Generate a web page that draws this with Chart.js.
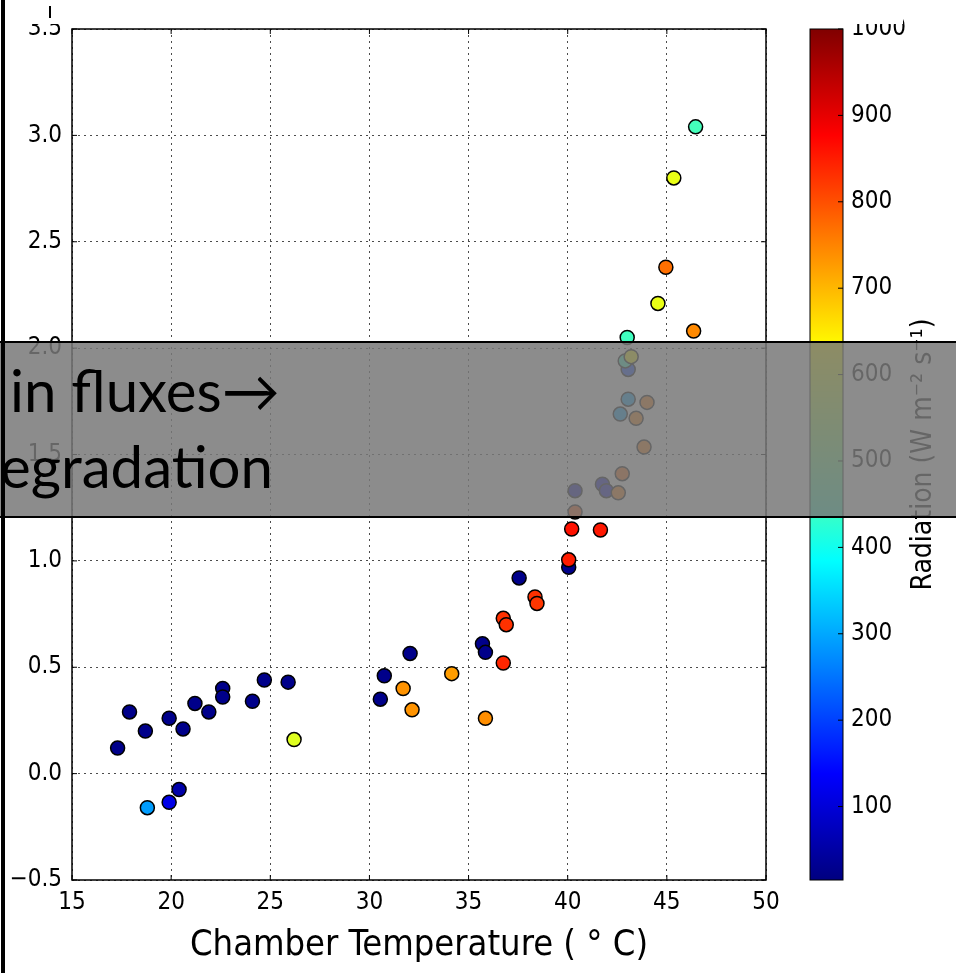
<!DOCTYPE html>
<html>
<head>
<meta charset="utf-8">
<script src="https://cdn.jsdelivr.net/npm/chart.js@4.4.1/dist/chart.umd.min.js"></script>
<style>
  html, body { margin: 0; padding: 0; background: #fff; }
</style>
</head>
<body>
<canvas id="fluxChart" width="956" height="973"></canvas>
<script>
// chamber temperature (deg C), flux, radiation (W m-2 s-1) for each point
var temperature = [17.3, 17.9, 18.7, 19.9, 20.6, 21.2, 21.9, 22.6, 22.6, 24.1, 24.7, 25.9,
  26.2, 30.55, 30.75, 31.7, 32.15, 32.05, 34.15, 35.7, 35.85, 35.85, 36.75, 36.9, 36.75,
  37.55, 38.35, 38.45, 40.05, 40.05, 40.2, 41.65, 40.37, 40.37, 41.75, 41.95, 42.55,
  42.75, 43.85, 43.45, 42.65, 44.0, 43.05, 43.05, 42.9, 43.2, 43.0, 46.35, 44.55, 44.95,
  45.35, 46.45, 18.8, 19.9, 20.4];
var flux = [0.12, 0.29, 0.20, 0.26, 0.21, 0.33, 0.29, 0.40, 0.36, 0.34, 0.44, 0.43,
  0.16, 0.35, 0.46, 0.40, 0.30, 0.565, 0.47, 0.61, 0.57, 0.26, 0.73, 0.70, 0.52,
  0.92, 0.83, 0.80, 0.97, 1.005, 1.15, 1.145, 1.23, 1.33, 1.36, 1.33, 1.32,
  1.41, 1.535, 1.67, 1.69, 1.745, 1.76, 1.90, 1.94, 1.96, 2.05, 2.08, 2.21, 2.38,
  2.80, 3.04, -0.16, -0.135, -0.075];
var radiation = [25, 25, 25, 25, 25, 25, 25, 25, 25, 25, 25, 25,
  600, 25, 25, 735, 735, 25, 725, 25, 25, 740, 830, 830, 840,
  25, 830, 825, 25, 850, 860, 855, 800, 60, 80, 80, 760,
  780, 760, 750, 300, 760, 300, 200, 440, 630, 445, 745, 610, 770,
  610, 450, 290, 115, 55];

var xTicks = [15, 20, 25, 30, 35, 40, 45, 50];
var yTicks = [-0.5, 0, 0.5, 1, 1.5, 2, 2.5, 3, 3.5];
var cbTicks = [100, 200, 300, 400, 500, 600, 700, 800, 900, 1000];
var cbMin = 15, cbMax = 1000;
var xLabel = 'Chamber Temperature ( \u00B0 C)';
var cbLabel = 'Radiation (W m\u207B\u00B2 s\u207B\u00B9)';
var noteLines = ['in fluxes\u2192', 'egradation'];

var narrow = "'Liberation Sans Narrow', 'DejaVu Sans Condensed', Arial, sans-serif";

// jet colormap
function jet(v) {
  var t = (v - cbMin) / (cbMax - cbMin);
  t = Math.max(0, Math.min(1, t));
  var cl = function (a) { return Math.round(255 * Math.max(0, Math.min(1, a))); };
  return 'rgb(' + cl(1.5 - Math.abs(4 * t - 3)) + ',' + cl(1.5 - Math.abs(4 * t - 2)) + ',' + cl(1.5 - Math.abs(4 * t - 1)) + ')';
}

var points = temperature.map(function (t, i) { return { x: t, y: flux[i] }; });

var decorations = {
  id: 'decorations',
  afterDraw: function (chart) {
    var ctx = chart.ctx, a = chart.chartArea;
    var xs = chart.scales.x, ys = chart.scales.y, cs = chart.scales.c;
    ctx.save();

    // axes frame + inward ticks
    ctx.strokeStyle = '#000';
    ctx.lineWidth = 1.5;
    ctx.strokeRect(a.left, a.top, a.right - a.left, a.bottom - a.top);
    ctx.lineWidth = 1;
    ctx.beginPath();
    xTicks.forEach(function (v) {
      var px = xs.getPixelForValue(v);
      ctx.moveTo(px, a.bottom); ctx.lineTo(px, a.bottom - 5);
      ctx.moveTo(px, a.top); ctx.lineTo(px, a.top + 5);
    });
    yTicks.forEach(function (v) {
      var py = ys.getPixelForValue(v);
      ctx.moveTo(a.left, py); ctx.lineTo(a.left + 5, py);
      ctx.moveTo(a.right, py); ctx.lineTo(a.right - 5, py);
    });
    ctx.stroke();

    // colorbar
    var cbL = cs.left + 44, cbR = cs.left + 77;
    var top = cs.getPixelForValue(cbMax), bot = cs.getPixelForValue(cbMin);
    var g = ctx.createLinearGradient(0, bot, 0, top);
    for (var i = 0; i <= 40; i++) {
      g.addColorStop(i / 40, jet(cbMin + (cbMax - cbMin) * i / 40));
    }
    ctx.fillStyle = g;
    ctx.fillRect(cbL, top, cbR - cbL, bot - top);
    ctx.lineWidth = 1;
    ctx.strokeStyle = '#000';
    ctx.strokeRect(cbL, top, cbR - cbL, bot - top);
    ctx.beginPath();
    cbTicks.forEach(function (v) {
      var py = cs.getPixelForValue(v);
      ctx.moveTo(cbR, py); ctx.lineTo(cbR - 5, py);
    });
    ctx.stroke();

    // colorbar label, bottom to top
    ctx.save();
    ctx.translate(cs.left + 158, (top + bot) / 2);
    ctx.rotate(-Math.PI / 2);
    ctx.fillStyle = '#000';
    ctx.font = '28px ' + narrow;
    ctx.textAlign = 'center';
    ctx.textBaseline = 'middle';
    ctx.fillText(cbLabel, 0, 0);
    ctx.restore();

    // white patch hiding the top strip
    ctx.fillStyle = '#fff';
    ctx.fillRect(8, 0, 895, 24);
    ctx.fillStyle = '#000';
    ctx.fillRect(49, 6, 2, 12);

    // grey slide overlay
    ctx.fillStyle = 'rgba(120,120,120,0.85)';
    ctx.fillRect(0, 342, chart.width, 175);
    ctx.fillStyle = '#000';
    ctx.fillRect(0, 341, chart.width, 2);
    ctx.fillRect(0, 516, chart.width, 2);

    ctx.font = '54px Lato, "Open Sans", sans-serif';
    var w = ctx.measureText(noteLines[1]).width;
    var size = 54 * 273 / w;
    ctx.font = size.toFixed(1) + 'px Lato, "Open Sans", sans-serif';
    ctx.textAlign = 'left';
    ctx.textBaseline = 'alphabetic';
    ctx.fillText(noteLines[0], 10, 412);
    ctx.fillText(noteLines[1], 0, 488);

    // left black edge
    ctx.fillRect(1, 0, 4, chart.height);
    ctx.restore();
  }
};

var ctx = document.getElementById('fluxChart').getContext('2d');
Chart.defaults.font.family = narrow;
Chart.defaults.color = '#000';

var fluxChart = new Chart(ctx, {
  type: 'scatter',
  data: {
    datasets: [{
      data: points,
      pointRadius: 7,
      pointHoverRadius: 7,
      pointBackgroundColor: radiation.map(jet),
      pointBorderColor: '#000',
      pointBorderWidth: 1.5
    }]
  },
  options: {
    responsive: false,
    animation: false,
    layout: { padding: { top: 29, left: 0, right: 0, bottom: 0 } },
    plugins: { legend: { display: false }, tooltip: { enabled: false } },
    scales: {
      x: {
        type: 'linear',
        min: 15, max: 50,
        afterBuildTicks: function (s) { s.ticks = xTicks.map(function (v) { return { value: v }; }); },
        afterFit: function (s) { s.height = 93; },
        grid: { color: 'rgba(0,0,0,0.7)', lineWidth: 1, drawTicks: false },
        border: { display: false, dash: [2, 4] },
        ticks: { font: { size: 24 }, padding: 8, maxRotation: 0 },
        title: { display: true, text: xLabel, font: { size: 36 }, padding: { top: 0, bottom: 6 } }
      },
      y: {
        min: -0.5, max: 3.5,
        afterBuildTicks: function (s) { s.ticks = yTicks.map(function (v) { return { value: v }; }); },
        afterFit: function (s) { s.width = 72; },
        grid: { color: 'rgba(0,0,0,0.7)', lineWidth: 1, drawTicks: false },
        border: { display: false, dash: [2, 4] },
        ticks: {
          font: { size: 24 }, padding: 10,
          callback: function (v) { return v < 0 ? '\u2212' + Math.abs(v).toFixed(1) : v.toFixed(1); }
        }
      },
      c: {
        type: 'linear',
        position: 'right',
        min: cbMin, max: cbMax,
        afterBuildTicks: function (s) { s.ticks = cbTicks.map(function (v) { return { value: v }; }); },
        afterFit: function (s) { s.width = 190; },
        grid: { drawOnChartArea: false, color: 'rgba(0,0,0,0)', drawTicks: true, tickLength: 77 },
        border: { display: false },
        ticks: { font: { size: 24 }, padding: 8, callback: function (v) { return String(v); } }
      }
    }
  },
  plugins: [decorations]
});
</script>
</body>
</html>
